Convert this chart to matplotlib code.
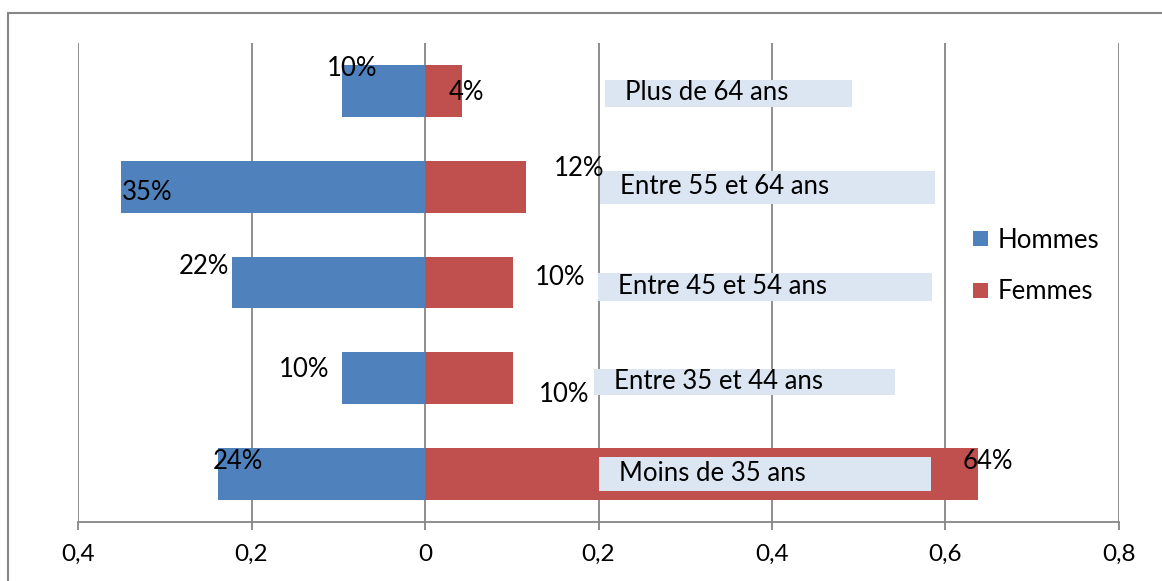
import matplotlib
matplotlib.use("Agg")
import matplotlib.pyplot as plt
import matplotlib.patches as mpatches

plt.rcParams['font.family'] = ['Lato', 'DejaVu Sans']

# data, bottom to top
categories = ['Moins de 35 ans', 'Entre 35 et 44 ans', 'Entre 45 et 54 ans',
              'Entre 55 et 64 ans', 'Plus de 64 ans']
hommes = [0.239, 0.096, 0.223, 0.351, 0.096]
femmes = [0.638, 0.101, 0.101, 0.116, 0.043]
hommes_labels = ['24%', '10%', '22%', '35%', '10%']
femmes_labels = ['64%', '10%', '10%', '12%', '4%']
tick_values = [-0.4, -0.2, 0, 0.2, 0.4, 0.6, 0.8]
tick_labels = ['0,4', '0,2', '0', '0,2', '0,4', '0,6', '0,8']

blue = '#4f81bd'
red = '#c0504d'
grey = '#868686'
box_col = '#dce6f2'
fs = 18.5

# label offsets in pixels from bar end (dx, dy)
h_off = [(20, 13), (-38, 9), (-28, 16), (27, -6), (10, 22)]
f_off = [(9, 13), (51, -16), (47, 5), (53, 18), (4, -2)]
# category boxes: left, right (data x), vertical shift, height (data y)
box_left = [0.201, 0.195, 0.199, 0.202, 0.207]
box_right = [0.583, 0.542, 0.585, 0.588, 0.4925]
box_shift = [0.0, -0.04, -0.05, -0.005, -0.026]
box_h = [0.354, 0.27, 0.29, 0.344, 0.28]

W, H = 1162, 581
fig = plt.figure(figsize=(W / 100, H / 100), dpi=100)
ax = fig.add_axes([78 / W, (H - 522) / H, (1119 - 78) / W, (522 - 43) / H])

y = list(range(len(categories)))
neg_h = [-v for v in hommes]
ax.barh(y, neg_h, height=0.54, color=blue, zorder=2, label='Hommes')
ax.barh(y, femmes, height=0.54, color=red, zorder=2, label='Femmes')

ax.set_xlim(-0.4, 0.8)
ax.set_ylim(-0.5, 4.5)
ax.set_xticks(tick_values)
ax.set_xticklabels(tick_labels, fontsize=17.5)
ax.set_yticks([])
ax.grid(axis='x', color=grey, linewidth=1.3, zorder=0)
for s in ['top', 'right', 'left']:
    ax.spines[s].set_visible(False)
ax.spines['bottom'].set_color(grey)
ax.spines['bottom'].set_linewidth(1.3)
ax.tick_params(axis='x', direction='out', length=6, width=1.3, color=grey, pad=10)

for i in y:
    ax.annotate(hommes_labels[i], xy=(neg_h[i], i), xytext=h_off[i],
                textcoords='offset pixels', ha='center', va='center',
                fontsize=fs, zorder=5)
    ax.annotate(femmes_labels[i], xy=(femmes[i], i), xytext=f_off[i],
                textcoords='offset pixels', ha='center', va='center',
                fontsize=fs, zorder=5)
    yc = i + box_shift[i]
    ax.add_patch(mpatches.Rectangle((box_left[i], yc - box_h[i] / 2),
                                    box_right[i] - box_left[i], box_h[i],
                                    facecolor=box_col, edgecolor='none', zorder=3))
    ax.annotate(categories[i], xy=(box_left[i], yc), xytext=(20, 1),
                textcoords='offset pixels', ha='left', va='center',
                fontsize=fs, zorder=4)

leg = ax.legend(loc='center left', bbox_to_anchor=(949 / W, (H - 266) / H),
                bbox_transform=fig.transFigure, fontsize=fs, frameon=True,
                handlelength=0.55, handleheight=0.55, handletextpad=0.39,
                labelspacing=1.05, borderpad=0.45, fancybox=False)
leg.get_frame().set_facecolor('white')
leg.get_frame().set_edgecolor('none')
leg.set_zorder(6)

# outer chart frame (cropped on right and bottom)
fig.patches.append(mpatches.Rectangle((8 / W, -0.1), 2, 1 - 13 / H + 0.1,
                                      transform=fig.transFigure, facecolor='none',
                                      edgecolor=grey, linewidth=1.5))

fig.savefig('out.png', dpi=100)
